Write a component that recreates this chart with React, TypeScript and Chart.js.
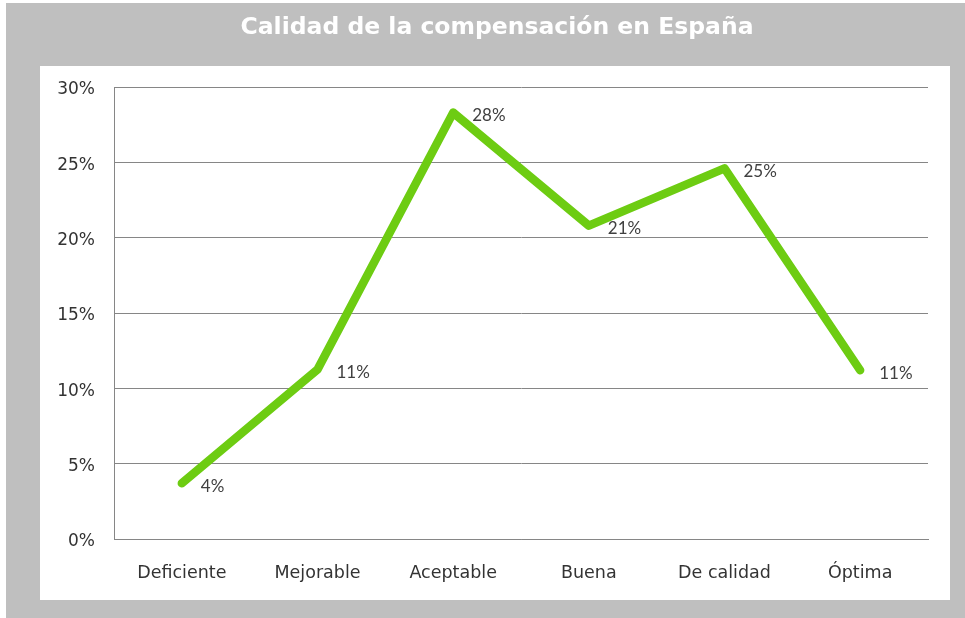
import React, { useEffect, useRef } from "react";
import { Chart, registerables } from "chart.js";

Chart.register(...registerables);

const TITLE = "Calidad de la compensación en España";
const categories = ["Deficiente", "Mejorable", "Aceptable", "Buena", "De calidad", "Óptima"];
const values = [3.7, 11.25, 28.3, 20.8, 24.6, 11.2];
const valueLabels = ["4%", "11%", "28%", "21%", "25%", "11%"];
const yTicks = [0, 5, 10, 15, 20, 25, 30];

const W = 965;
const H = 618;

const framePlugin = {
  id: "frame",
  beforeDraw(chart: any) {
    const ctx = chart.ctx;
    ctx.save();
    ctx.fillStyle = "#ffffff";
    ctx.fillRect(0, 0, W, H);
    ctx.fillStyle = "#bfbfbf";
    ctx.fillRect(6, 3, W - 6, H - 3);
    ctx.fillStyle = "#ffffff";
    ctx.fillRect(40, 66, 910, 534);
    ctx.fillStyle = "#ffffff";
    ctx.font = "bold 23.5px 'DejaVu Sans'";
    ctx.textAlign = "center";
    ctx.textBaseline = "middle";
    ctx.fillText(TITLE, 497, 28);
    ctx.restore();
  },
};

const labelPlugin = {
  id: "valueLabels",
  afterDatasetsDraw(chart: any) {
    const ctx = chart.ctx;
    const meta = chart.getDatasetMeta(0);
    ctx.save();
    ctx.font = "17px Lato";
    ctx.fillStyle = "#404040";
    ctx.textAlign = "left";
    ctx.textBaseline = "middle";
    meta.data.forEach((pt: any, i: number) => {
      ctx.fillText(valueLabels[i], pt.x + 19, pt.y + 3);
    });
    ctx.restore();
  },
};

export default function App() {
  const ref = useRef<HTMLCanvasElement | null>(null);
  useEffect(() => {
    if (!ref.current) return;
    const chart = new Chart(ref.current, {
      type: "line",
      data: {
        labels: categories,
        datasets: [
          {
            data: values,
            borderColor: "#6dcc12",
            borderWidth: 8.5,
            borderCapStyle: "round",
            borderJoinStyle: "round",
            pointRadius: 0,
            tension: 0,
            fill: false,
          },
        ],
      },
      options: {
        responsive: false,
        animation: false,
        events: [],
        layout: { padding: { left: 40, right: 37, top: 87, bottom: 18 } },
        plugins: {
          legend: { display: false },
          title: { display: false },
          tooltip: { enabled: false },
        },
        scales: {
          x: {
            offset: true,
            grid: { display: false, drawTicks: false },
            border: { display: true, color: "#868686", width: 1 },
            ticks: {
              padding: 24,
              color: "#333333",
              font: { family: "'DejaVu Sans'", size: 17.5 },
            },
            afterFit(scale: any) {
              scale.height = 61;
            },
          },
          y: {
            min: 0,
            max: 30,
            afterBuildTicks(scale: any) {
              scale.ticks = yTicks.map((v) => ({ value: v }));
            },
            grid: { color: "#868686", lineWidth: 1, drawTicks: false },
            border: { display: true, color: "#868686", width: 1 },
            ticks: {
              padding: 19,
              labelOffset: 3,
              color: "#333333",
              font: { family: "'DejaVu Sans'", size: 17 },
              callback: (v: any) => v + "%",
            },
            afterFit(scale: any) {
              scale.width = 74;
            },
          },
        },
      },
      plugins: [framePlugin, labelPlugin],
    });
    return () => chart.destroy();
  }, []);
  return (
    <div style={{ position: "fixed", left: 0, top: 0, width: W, height: H }}>
      <canvas ref={ref} width={W} height={H} style={{ width: W, height: H, display: "block" }} />
    </div>
  );
}
